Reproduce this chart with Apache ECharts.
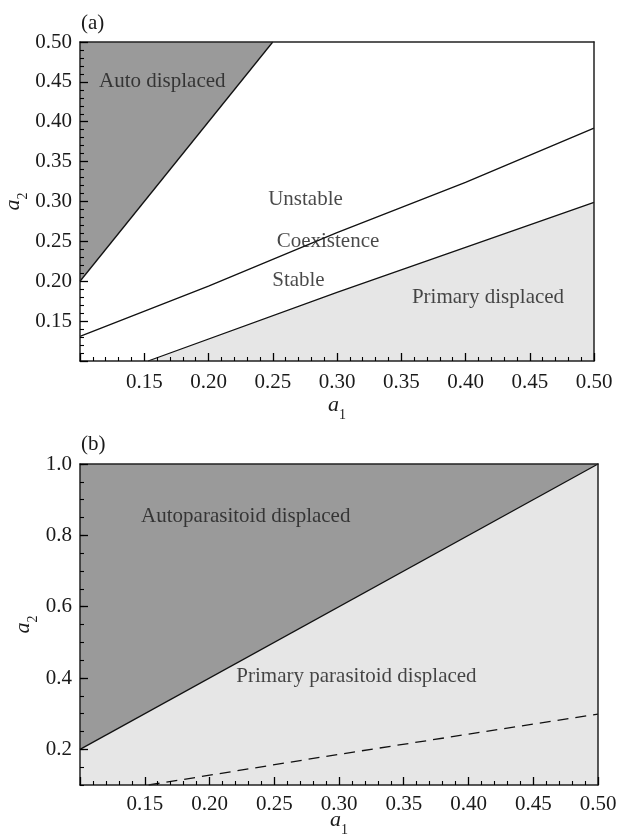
<!DOCTYPE html>
<html>
<head>
<meta charset="utf-8">
<script src="https://cdn.jsdelivr.net/npm/echarts@6/dist/echarts.min.js"></script>
<style>
  html, body { margin: 0; padding: 0; background: #fff; }
  #chart { width: 618px; height: 836px; }
</style>
</head>
<body>
<div id="chart"></div>
<script>
// ---------- data ----------
// Panel (a): boundaries in the (a1, a2) plane
const panelAAutoBoundaryA1 = [0.10, 0.25];
const panelAAutoBoundaryA2 = [0.20, 0.50];
const panelACoexistBoundaryA1 = [0.10, 0.20, 0.30, 0.40, 0.50];
const panelACoexistBoundaryA2 = [0.131, 0.194, 0.261, 0.324, 0.392];
const panelAPrimaryBoundaryA1 = [0.153, 0.30, 0.50];
const panelAPrimaryBoundaryA2 = [0.10, 0.186, 0.299];
const panelARegionNames = ['Auto displaced', 'Unstable', 'Coexistence', 'Stable', 'Primary displaced'];

// Panel (b)
const panelBAutoBoundaryA1 = [0.10, 0.50];
const panelBAutoBoundaryA2 = [0.20, 1.00];
const panelBDashedA1 = [0.153, 0.30, 0.50];
const panelBDashedA2 = [0.10, 0.186, 0.299];
const panelBRegionNames = ['Autoparasitoid displaced', 'Primary parasitoid displaced'];

// Axis ranges / tick labels
const a1Range = [0.10, 0.50];
const panelAA2Range = [0.10, 0.50];
const panelBA2Range = [0.10, 1.00];
const panelBA2TickLabels = [0.2, 0.4, 0.6, 0.8, 1.0];
const panelLetters = ['(a)', '(b)'];

// ---------- helpers ----------
const zip = (xs, ys) => xs.map((x, i) => [x, ys[i]]);
const FONT = '"Liberation Serif", "Times New Roman", serif';
const TXT = '#1a1a1a';
const DARK = '#9a9a9a';
const LIGHT = '#e6e6e6';
const FRAME = '#222';

function mainXAxis(gridIndex, nameGap, labelMargin) {
  return {
    type: 'value', gridIndex, position: 'bottom',
    min: a1Range[0], max: a1Range[1], interval: 0.05, z: 5,
    name: '{i|a}{s|1}', nameLocation: 'middle', nameGap, nameMoveOverlap: false,
    nameTextStyle: {
      rich: {
        i: { fontFamily: FONT, fontStyle: 'italic', fontSize: 22, color: TXT },
        s: { fontFamily: FONT, fontSize: 14, color: TXT, verticalAlign: 'bottom', padding: [0, 0, -6, 0] }
      }
    },
    axisLine: { show: true, onZero: false, lineStyle: { color: FRAME, width: 1.5 } },
    axisTick: { show: true, inside: true, length: 8, lineStyle: { color: '#000', width: 1.3 } },
    minorTick: { show: true, splitNumber: 5, length: 4, lineStyle: { color: '#000', width: 1.1 } },
    axisLabel: {
      showMinLabel: false, margin: labelMargin, fontFamily: FONT, fontSize: 21, color: TXT,
      formatter: v => v.toFixed(2)
    },
    splitLine: { show: false }
  };
}
function frameXAxis(gridIndex) {
  return {
    type: 'value', gridIndex, position: 'top', min: a1Range[0], max: a1Range[1], z: 5,
    axisLine: { show: true, onZero: false, lineStyle: { color: FRAME, width: 1.5 } },
    axisTick: { show: false }, axisLabel: { show: false }, splitLine: { show: false }
  };
}
function frameYAxis(gridIndex, range) {
  return {
    type: 'value', gridIndex, position: 'right', min: range[0], max: range[1], z: 5,
    axisLine: { show: true, onZero: false, lineStyle: { color: FRAME, width: 1.5 } },
    axisTick: { show: false }, axisLabel: { show: false }, splitLine: { show: false }
  };
}
const yName = {
  rich: {
    i: { fontFamily: FONT, fontStyle: 'italic', fontSize: 22, color: TXT },
    s: { fontFamily: FONT, fontSize: 14, color: TXT, verticalAlign: 'bottom', padding: [0, 0, -6, 0] }
  }
};

const option = {
  animation: false,
  backgroundColor: '#fff',
  title: [
    { text: panelLetters[0], left: 76, top: 8, textStyle: { fontFamily: FONT, fontSize: 21, fontWeight: 'normal', color: TXT } },
    { text: panelLetters[1], left: 76, top: 429, textStyle: { fontFamily: FONT, fontSize: 21, fontWeight: 'normal', color: TXT } }
  ],
  grid: [
    { left: 80, top: 42, width: 514, height: 319, show: false, containLabel: false, outerBoundsMode: 'none' },
    { left: 80, top: 464, width: 518, height: 321, show: true, backgroundColor: LIGHT, borderWidth: 0, containLabel: false, outerBoundsMode: 'none' }
  ],
  xAxis: [
    mainXAxis(0, 33, 11),
    frameXAxis(0),
    mainXAxis(1, 24, 9),
    frameXAxis(1)
  ],
  yAxis: [
    {
      type: 'value', gridIndex: 0, position: 'left',
      min: panelAA2Range[0], max: panelAA2Range[1], interval: 0.05, z: 5,
      name: '{i|a}{s|2}', nameLocation: 'middle', nameRotate: 90, nameGap: 56, nameMoveOverlap: false, nameTextStyle: yName,
      axisLine: { show: true, onZero: false, lineStyle: { color: FRAME, width: 1.5 } },
      axisTick: { show: true, inside: true, length: 8, lineStyle: { color: '#000', width: 1.3 } },
      minorTick: { show: true, splitNumber: 5, length: 4, lineStyle: { color: '#000', width: 1.1 } },
      axisLabel: { showMinLabel: false, margin: 8, fontFamily: FONT, fontSize: 21, color: TXT, formatter: v => v.toFixed(2) },
      splitLine: { show: false }
    },
    frameYAxis(0, panelAA2Range),
    {
      type: 'value', gridIndex: 1, position: 'left',
      min: panelBA2Range[0], max: panelBA2Range[1], z: 5,
      name: '{i|a}{s|2}', nameLocation: 'middle', nameRotate: 90, nameGap: 46, nameMoveOverlap: false, nameTextStyle: yName,
      axisLine: { show: true, onZero: false, lineStyle: { color: FRAME, width: 1.5 } },
      axisTick: { show: true, inside: true, length: 8, customValues: panelBA2TickLabels, lineStyle: { color: '#000', width: 1.3 } },
      axisLabel: { margin: 8, fontFamily: FONT, fontSize: 21, color: TXT, customValues: panelBA2TickLabels, formatter: v => v.toFixed(1) },
      splitLine: { show: false }
    },
    frameYAxis(1, panelBA2Range),
    {
      type: 'value', gridIndex: 1, position: 'left', offset: 0,
      min: panelBA2Range[0], max: panelBA2Range[1], interval: 0.05, z: 5,
      axisLine: { show: false, onZero: false },
      axisTick: { show: true, inside: true, length: 4, lineStyle: { color: '#000', width: 1.1 } },
      axisLabel: { show: false }, splitLine: { show: false }
    }
  ],
  series: [
    // Panel (a)
    {
      type: 'line', xAxisIndex: 0, yAxisIndex: 0, showSymbol: false, symbol: 'none',
      data: zip(panelAAutoBoundaryA1, panelAAutoBoundaryA2),
      lineStyle: { color: '#111', width: 1.3 },
      areaStyle: { color: DARK, opacity: 1, origin: 'end' }
    },
    {
      type: 'line', xAxisIndex: 0, yAxisIndex: 0, showSymbol: false, symbol: 'none',
      data: zip(panelAPrimaryBoundaryA1, panelAPrimaryBoundaryA2),
      lineStyle: { color: '#111', width: 1.3 },
      areaStyle: { color: LIGHT, opacity: 1, origin: 'start' }
    },
    {
      type: 'line', xAxisIndex: 0, yAxisIndex: 0, showSymbol: false, symbol: 'none',
      data: zip(panelACoexistBoundaryA1, panelACoexistBoundaryA2),
      lineStyle: { color: '#111', width: 1.3 }
    },
    {
      type: 'scatter', xAxisIndex: 0, yAxisIndex: 0, symbolSize: 0, z: 4, silent: true,
      data: [
        { name: panelARegionNames[0], value: [0.164, 0.450] },
        { name: panelARegionNames[1], value: [0.2755, 0.303] },
        { name: panelARegionNames[2], value: [0.293, 0.250] },
        { name: panelARegionNames[3], value: [0.2700, 0.2005] },
        { name: panelARegionNames[4], value: [0.4175, 0.180] }
      ],
      label: { show: true, position: 'inside', formatter: '{b}', fontFamily: FONT, fontSize: 21, color: TXT }
    },
    // Panel (b)
    {
      type: 'line', xAxisIndex: 2, yAxisIndex: 2, showSymbol: false, symbol: 'none',
      data: zip(panelBAutoBoundaryA1, panelBAutoBoundaryA2),
      lineStyle: { color: '#111', width: 1.3 },
      areaStyle: { color: DARK, opacity: 1, origin: 'end' }
    },
    {
      type: 'line', xAxisIndex: 2, yAxisIndex: 2, showSymbol: false, symbol: 'none',
      data: zip(panelBDashedA1, panelBDashedA2),
      lineStyle: { color: '#111', width: 1.3, type: [11, 7] }
    },
    {
      type: 'scatter', xAxisIndex: 2, yAxisIndex: 2, symbolSize: 0, z: 4, silent: true,
      data: [
        { name: panelBRegionNames[0], value: [0.228, 0.853] },
        { name: panelBRegionNames[1], value: [0.3135, 0.404] }
      ],
      label: { show: true, position: 'inside', formatter: '{b}', fontFamily: FONT, fontSize: 21, color: TXT }
    }
  ]
};

const chart = echarts.init(document.getElementById('chart'), null, { renderer: 'canvas' });
chart.setOption(option);
</script>
</body>
</html>
